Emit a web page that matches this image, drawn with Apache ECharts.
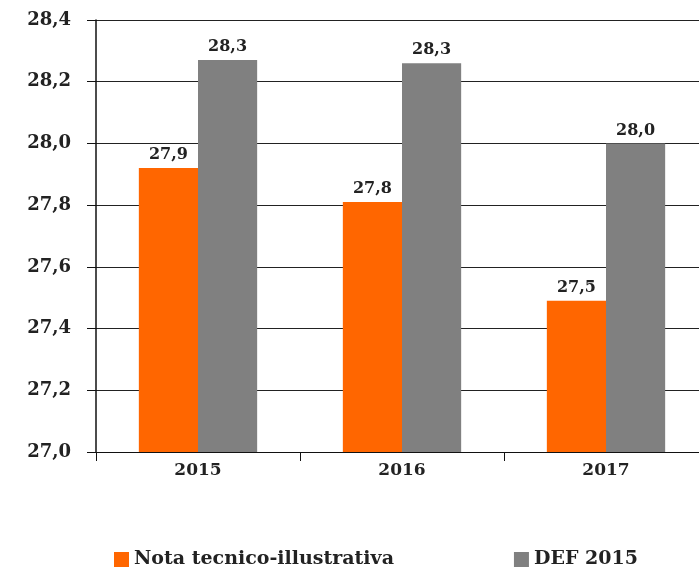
<!DOCTYPE html>
<html>
<head>
<meta charset="utf-8">
<script src="https://cdn.jsdelivr.net/npm/echarts@6/dist/echarts.min.js"></script>
<style>
  html, body { margin: 0; padding: 0; background: #fff; }
  #chart { width: 699px; height: 573px; }
</style>
</head>
<body>
<div id="chart"></div>
<script>
var years = ['2015', '2016', '2017'];
var notaValues = [27.92, 27.81, 27.49];
var defValues = [28.27, 28.26, 28.0];
var seriesNames = ['Nota tecnico-illustrativa', 'DEF 2015'];

var chart = echarts.init(document.getElementById('chart'));

function fmt(v) {
    return v.toFixed(1).replace('.', ',');
}

var FONT = 'DejaVu Serif';

var labelStyle = {
    show: true,
    position: 'top',
    distance: 5,
    fontFamily: FONT,
    fontWeight: 'bold',
    fontSize: 16,
    color: '#222',
    formatter: function (p) { return fmt(p.value); }
};

var option = {
    animation: false,
    textStyle: { fontFamily: FONT },
    grid: { left: 96, width: 612, top: 20, bottom: 121, outerBoundsMode: 'none' },
    legend: {
        data: seriesNames,
        left: 109,
        top: 545,
        itemWidth: 15,
        itemHeight: 15,
        itemGap: 120,
        icon: 'rect',
        textStyle: {
            fontFamily: FONT,
            fontWeight: 'bold',
            fontSize: 19,
            color: '#222'
        }
    },
    xAxis: {
        type: 'category',
        data: years,
        axisLine: { lineStyle: { color: '#111', width: 1 } },
        axisTick: { show: true, length: 9, lineStyle: { color: '#111' } },
        axisLabel: {
            margin: 10,
            fontFamily: FONT,
            fontWeight: 'bold',
            fontSize: 17,
            color: '#222'
        }
    },
    yAxis: {
        type: 'value',
        min: 27.0,
        max: 28.4,
        interval: 0.2,
        axisLine: { show: true, lineStyle: { color: '#111', width: 1.5 } },
        axisTick: { show: true, length: 9, lineStyle: { color: '#111' } },
        splitLine: { lineStyle: { color: '#222', width: 1 } },
        axisLabel: {
            margin: 25,
            fontFamily: FONT,
            fontWeight: 'bold',
            fontSize: 18,
            color: '#222',
            formatter: function (v) { return fmt(v); }
        }
    },
    series: [
        {
            name: seriesNames[0],
            type: 'bar',
            data: notaValues,
            barWidth: '29%',
            barGap: '0%',
            itemStyle: { color: '#FF6600' },
            label: labelStyle
        },
        {
            name: seriesNames[1],
            type: 'bar',
            data: defValues,
            barWidth: '29%',
            itemStyle: { color: '#808080' },
            label: labelStyle
        }
    ]
};

chart.setOption(option);
</script>
</body>
</html>
